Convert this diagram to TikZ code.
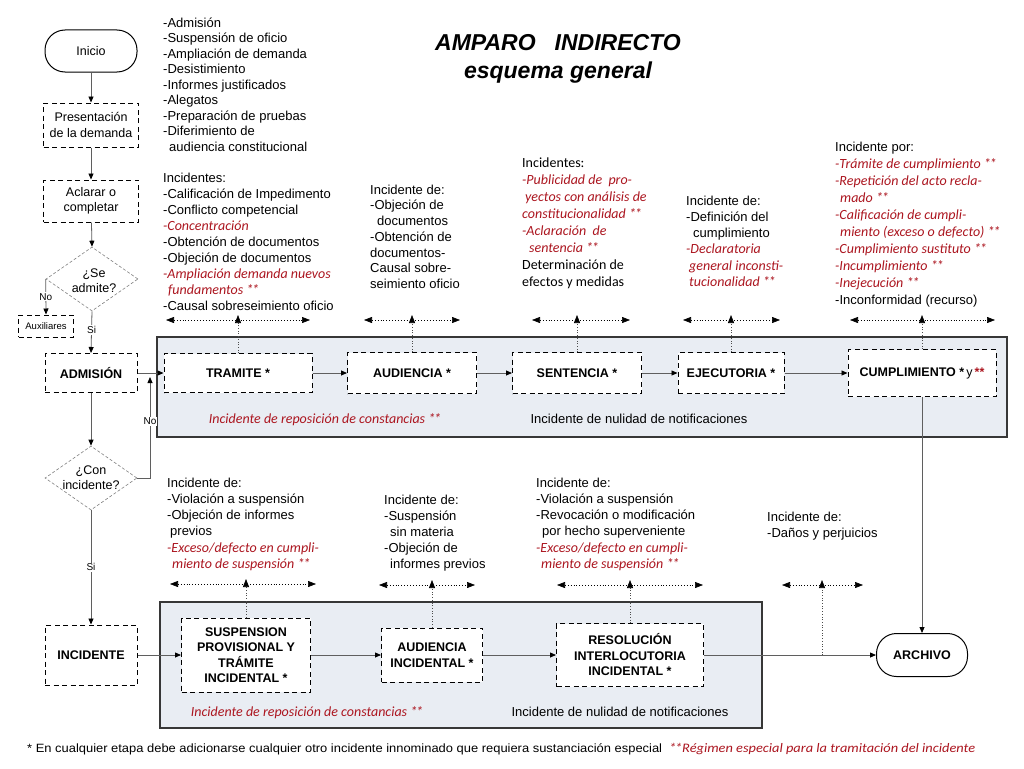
\documentclass[tikz,border=0pt]{standalone}
\usepackage{fontspec}
\usepackage{graphicx}
\setmainfont{Liberation Sans}
\newfontfamily\carlito{Carlito}
\usetikzlibrary{arrows.meta,shapes.geometric}
\definecolor{incred}{RGB}{172,22,32}
\definecolor{bandfill}{RGB}{233,237,243}
\definecolor{bandline}{RGB}{55,55,55}
\definecolor{conncol}{RGB}{95,95,95}
\newcommand\rit[1]{{\carlito\itshape\fontsize{14}{16}\selectfont\color{incred}#1}}
\newcommand\dst{*\kern-1.2pt*}
\newcommand\tstr{\rule{0pt}{12pt}}
\begin{document}
\begin{tikzpicture}[x=1pt,y=-1pt,
  dbox/.style={draw=black, dash pattern=on 5pt off 3.5pt, line width=1pt, fill=white,
     font=\bfseries\fontsize{12.5}{15.5}\selectfont, align=center, inner sep=0pt},
  term/.style={draw=black, line width=1pt, rounded corners=20pt, fill=white, inner sep=0pt,
     font=\fontsize{12.5}{15}\selectfont},
  decision/.style={diamond, draw=gray, dash pattern=on 3pt off 2pt, line width=0.6pt,
     minimum width=92pt, minimum height=64pt, inner sep=0pt},
  conn/.style={draw=conncol, line width=0.8pt, -{Triangle[length=6pt,width=5pt,color=black]}},
  ddarrow/.style={draw=black, dash pattern=on 0.7pt off 2.2pt, line width=0.6pt,
     {Triangle[length=8pt,width=6pt]}-{Triangle[length=8pt,width=6pt]}},
  vdot/.style={draw=black!70, dash pattern=on 0.7pt off 2pt, line width=0.6pt,
     -{Triangle[length=8pt,width=6pt,color=black]}},
  txt/.style={anchor=north west, align=left, inner sep=0pt},
  lbl/.style={font=\fontsize{10}{12}\selectfont, inner sep=1pt, fill=white},
  band/.style={draw=bandline, fill=bandfill, line width=1.1pt}
]
\useasboundingbox (0,0) rectangle (1024,768);
\fill[white] (0,0) rectangle (1024,768);

% background bands
\node[band, minimum width=850pt, minimum height=100pt, inner sep=0pt] (band1) at (582,387) {};
\node[band, minimum width=602pt, minimum height=126pt, inner sep=0pt] (band2) at (461,665) {};

% title
\node[anchor=base, inner sep=0pt, font=\bfseries\itshape\fontsize{23}{27}\selectfont] (title1) at (558,51) {AMPARO\hspace*{19pt}INDIRECTO};
\node[anchor=base, inner sep=0pt, font=\bfseries\itshape\fontsize{23}{27}\selectfont] (title2) at (558,78) {esquema general};

% left column
\node[term, minimum width=92pt, minimum height=42pt] (ini) at (91,51) {Inicio};
\node[dbox, font=\fontsize{12.5}{15.5}\selectfont, minimum width=95pt, minimum height=44pt] (pres) at (91,125) {Presentación\\de la demanda};
\node[dbox, font=\fontsize{12.5}{15.5}\selectfont, minimum width=95pt, minimum height=42pt] (acl) at (91,201) {Aclarar o\\completar};
\node[decision] (se) at (92,279) {};
\node[align=center, inner sep=0pt, font=\fontsize{12.5}{15}\selectfont] (selbl) at (94,281) {¿Se\\admite?};
\node[dbox, font=\fontsize{9.5}{11}\selectfont, minimum width=55pt, minimum height=22pt] (aux) at (46,326) {Auxiliares};
\node[dbox, minimum width=92pt, minimum height=39pt] (adm) at (91,373) {ADMISIÓN};
\node[decision] (con) at (91,478) {};
\node[align=center, inner sep=0pt, font=\fontsize{12.5}{15}\selectfont] (conlbl) at (91,478) {¿Con\\incidente?};
\node[dbox, minimum width=92pt, minimum height=60pt] (inc) at (91,655) {INCIDENTE};

% top band nodes
\node[dbox, minimum width=148pt, minimum height=39pt] (tram) at (238,373) {TRAMITE *};
\node[dbox, minimum width=129pt, minimum height=41pt] (aud) at (412,373) {AUDIENCIA *};
\node[dbox, minimum width=129pt, minimum height=41pt] (sen) at (577,373) {SENTENCIA *};
\node[dbox, minimum width=106pt, minimum height=41pt] (eje) at (731,373) {EJECUTORIA *};
\node[dbox, minimum width=148pt, minimum height=47pt] (cump) at (922,373) {CUMPLIMIENTO *\,{\mdseries y}\,{\color{incred}**}};

\node[anchor=base, inner sep=0pt] (rep1) at (325,423) {\rit{Incidente de reposición de constancias \dst}};
\node[anchor=base, inner sep=0pt, font=\fontsize{13}{16}\selectfont] (nul1) at (639,423) {Incidente de nulidad de notificaciones};

% bottom band nodes
\node[dbox, minimum width=129pt, minimum height=74pt] (susp) at (246,655) {SUSPENSION\\PROVISIONAL Y\\TRÁMITE\\INCIDENTAL *};
\node[dbox, minimum width=101pt, minimum height=54pt] (audi) at (432,655) {AUDIENCIA\\INCIDENTAL *};
\node[dbox, minimum width=147pt, minimum height=63pt] (res) at (630,655) {RESOLUCIÓN\\INTERLOCUTORIA\\INCIDENTAL *};
\node[term, font=\bfseries\fontsize{12.5}{15}\selectfont, minimum width=91pt, minimum height=43pt] (arch) at (922,655) {ARCHIVO};

\node[anchor=base, inner sep=0pt] (rep2) at (307,716) {\rit{Incidente de reposición de constancias \dst}};
\node[anchor=base, inner sep=0pt, font=\fontsize{13}{16}\selectfont] (nul2) at (620,716) {Incidente de nulidad de notificaciones};

% left column connectors
\draw[conn] (ini) -- (pres);
\draw[conn] (pres) -- (acl);
\draw[conn] (acl) -- (se.north);
\draw[conn] (se.west) -- node[lbl, pos=0.5] (nolbl1) {No} (aux.north);
\draw[conn] (se.south) -- node[lbl, pos=0.45] (silbl1) {Si} (adm.north);
\draw[conn] (adm.south) -- (con.north);
\draw[conn] (con.south) -- node[lbl, pos=0.5] (silbl2) {Si} (inc.north);
\coordinate (noend) at (150,377);
\draw[conn] (con.east) -| node[lbl, pos=0.78] (nolbl2) {No} (noend);

% top chain
\draw[conn] (adm.east) -- (tram.west);
\draw[conn] (tram.east) -- (aud.west);
\draw[conn] (aud.east) -- (sen.west);
\draw[conn] (sen.east) -- (eje.west);
\draw[conn] (eje.east) -- (cump.west);

% bottom chain
\draw[conn] (inc.east) -- (susp.west);
\draw[conn] (susp.east) -- (audi.west);
\draw[conn] (audi.east) -- (res.west);
\draw[conn] (res.east) -- (arch.west);
\draw[conn] (cump.south) -- (cump.south |- arch.north);

% top incident markers
\coordinate (t1a) at (166,320); \coordinate (t1b) at (310,320); \coordinate (t1t) at (238,315);
\coordinate (t2a) at (364,320); \coordinate (t2b) at (460,320); \coordinate (t2t) at (412,315);
\coordinate (t3a) at (532,320); \coordinate (t3b) at (630,320); \coordinate (t3t) at (577,315);
\coordinate (t4a) at (683,320); \coordinate (t4b) at (780,320); \coordinate (t4t) at (731,315);
\coordinate (t5a) at (850,320); \coordinate (t5b) at (995,320); \coordinate (t5t) at (922,315);
\draw[ddarrow] (t1a) -- (t1b); \draw[vdot] (tram.north) -- (t1t);
\draw[ddarrow] (t2a) -- (t2b); \draw[vdot] (aud.north) -- (t2t);
\draw[ddarrow] (t3a) -- (t3b); \draw[vdot] (sen.north) -- (t3t);
\draw[ddarrow] (t4a) -- (t4b); \draw[vdot] (eje.north) -- (t4t);
\draw[ddarrow] (t5a) -- (t5b); \draw[vdot] (cump.north) -- (t5t);

% bottom incident markers
\coordinate (b1a) at (170,584); \coordinate (b1b) at (316,584); \coordinate (b1t) at (246,579);
\coordinate (b2a) at (379,585); \coordinate (b2b) at (475,585); \coordinate (b2t) at (432,580);
\coordinate (b3a) at (557,585); \coordinate (b3b) at (703,585); \coordinate (b3t) at (630,580);
\coordinate (b4a) at (782,585); \coordinate (b4b) at (863,585); \coordinate (b4t) at (822,580);
\coordinate (dj) at (822,655);
\draw[ddarrow] (b1a) -- (b1b); \draw[vdot] (susp.north) -- (b1t);
\draw[ddarrow] (b2a) -- (b2b); \draw[vdot] (audi.north) -- (b2t);
\draw[ddarrow] (b3a) -- (b3b); \draw[vdot] (res.north) -- (b3t);
\draw[ddarrow] (b4a) -- (b4b); \draw[vdot] (dj) -- (b4t);

% top texts
\node[txt, font=\fontsize{13}{15.5}\selectfont] (tl1) at (163,15) {\tstr-Admisión\\-Suspensión de oficio\\-Ampliación de demanda\\-Desistimiento\\-Informes justificados\\-Alegatos\\-Preparación de pruebas\\-Diferimiento de\\\hspace*{6pt}audiencia constitucional};
\node[txt, font=\fontsize{13}{16}\selectfont] (tl2) at (163,170) {\tstr Incidentes:\\-Calificación de Impedimento\\-Conflicto competencial\\\rit{-Concentración}\\-Obtención de documentos\\-Objeción de documentos\\\rit{-Ampliación demanda nuevos}\\\rit{\hspace*{5pt}fundamentos \dst}\\-Causal sobreseimiento oficio};
\node[txt, font=\fontsize{13}{15.7}\selectfont] (tl3) at (370,182) {\tstr Incidente de:\\-Objeción de\\\hspace*{7pt}documentos\\-Obtención de\\documentos-\\Causal sobre-\\seimiento oficio};
\node[txt, font=\carlito\fontsize{14}{17.1}\selectfont] (tl4) at (522,155) {\tstr Incidentes:\\\rit{-Publicidad de\ \ pro-}\\\rit{\hspace*{3pt}yectos con análisis de}\\\rit{constitucionalidad \dst}\\\rit{-Aclaración\ \ de}\\\rit{\hspace*{7pt}sentencia \dst}\\Determinación de\\efectos y medidas};
\node[txt, font=\fontsize{13}{16.2}\selectfont] (tl5) at (686,193) {\tstr Incidente de:\\-Definición del\\\hspace*{7pt}cumplimiento\\\rit{-Declaratoria}\\\rit{\hspace*{3pt}general inconsti-}\\\rit{\hspace*{3pt}tucionalidad \dst}};
\node[txt, font=\fontsize{13}{17}\selectfont] (tl6) at (835,139) {\tstr Incidente por:\\\rit{-Trámite de cumplimiento \dst}\\\rit{-Repetición del acto recla-}\\\rit{\hspace*{5pt}mado \dst}\\\rit{-Calificación de cumpli-}\\\rit{\hspace*{5pt}miento (exceso o defecto) \dst}\\\rit{-Cumplimiento sustituto \dst}\\\rit{-Incumplimiento \dst}\\\rit{-Inejecución \dst}\\-Inconformidad (recurso)};

% bottom texts
\node[txt, font=\fontsize{13}{16.2}\selectfont] (bl1) at (167,475) {\tstr Incidente de:\\-Violación a suspensión\\-Objeción de informes\\\hspace*{3pt}previos\\\rit{-Exceso/defecto en cumpli-}\\\rit{\hspace*{5pt}miento de suspensión \dst}};
\node[txt, font=\fontsize{13}{16}\selectfont] (bl2) at (384,492) {\tstr Incidente de:\\-Suspensión\\\hspace*{6pt}sin materia\\-Objeción de\\\hspace*{6pt}informes previos};
\node[txt, font=\fontsize{13}{16.2}\selectfont] (bl3) at (536,475) {\tstr Incidente de:\\-Violación a suspensión\\-Revocación o modificación\\\hspace*{6pt}por hecho superveniente\\\rit{-Exceso/defecto en cumpli-}\\\rit{\hspace*{5pt}miento de suspensión \dst}};
\node[txt, font=\fontsize{13}{16}\selectfont] (bl4) at (767,509) {\tstr Incidente de:\\-Daños y perjuicios};

% footnote
\node[anchor=base west, inner sep=0pt] (fn1) at (27,752) {\resizebox{635pt}{\height}{\fontsize{12}{14}\selectfont * En cualquier etapa debe adicionarse cualquier otro incidente innominado que requiera sustanciación especial}};
\node[anchor=base west, inner sep=0pt] (fn2) at (669,752) {\resizebox{306pt}{\height}{\carlito\itshape\fontsize{13}{15}\selectfont\color{incred}\dst Régimen especial para la tramitación del incidente}};
\end{tikzpicture}
\end{document}
